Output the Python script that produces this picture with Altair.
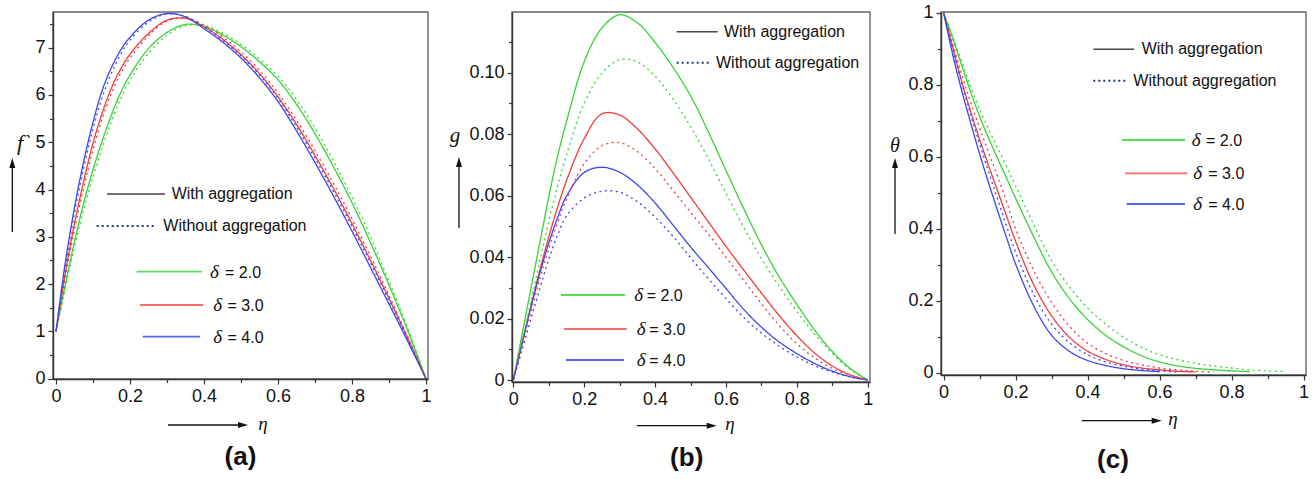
import altair as alt
import pandas as pd

SANS = "Liberation Sans"
SERIF = "Liberation Serif"
INK = "#111111"

DELTAS = ["2.0", "3.0", "4.0"]
KINDS = ["With aggregation", "Without aggregation"]
COLORS = ["#35d435", "#f03b3b", "#3b46ee"]

# ---------------- (a) velocity f' ----------------
ETA_A = [0, 0.0125, 0.025, 0.05, 0.075, 0.1, 0.125, 0.15, 0.175, 0.2, 0.25, 0.3, 0.35,
         0.4, 0.45, 0.5, 0.55, 0.6, 0.65, 0.7, 0.75, 0.8, 0.85, 0.9, 0.95, 1.0]
FP_D2_WITH = [1.0, 1.50, 1.98, 2.90, 3.72, 4.42, 5.03, 5.58, 6.05, 6.42, 6.98, 7.32, 7.49,
              7.45, 7.27, 7.02, 6.70, 6.32, 5.80, 5.18, 4.48, 3.72, 2.88, 1.98, 1.03, 0.0]
FP_D3_WITH = [1.0, 1.62, 2.22, 3.28, 4.18, 4.98, 5.62, 6.15, 6.55, 6.86, 7.30, 7.58, 7.62,
              7.44, 7.18, 6.85, 6.45, 5.96, 5.38, 4.72, 4.02, 3.28, 2.50, 1.70, 0.87, 0.0]
FP_D4_WITH = [1.0, 1.75, 2.45, 3.62, 4.60, 5.42, 6.10, 6.58, 6.95, 7.22, 7.58, 7.72, 7.65,
              7.40, 7.12, 6.78, 6.36, 5.86, 5.24, 4.57, 3.86, 3.12, 2.35, 1.58, 0.80, 0.0]
FP_D2_WITHOUT = [1.0, 1.45, 1.90, 2.78, 3.58, 4.27, 4.88, 5.44, 5.92, 6.31, 6.88, 7.26, 7.46,
                 7.47, 7.31, 7.07, 6.76, 6.40, 5.90, 5.30, 4.60, 3.84, 3.00, 2.06, 1.08, 0.0]
FP_D3_WITHOUT = [1.0, 1.57, 2.13, 3.16, 4.04, 4.84, 5.50, 6.04, 6.46, 6.78, 7.25, 7.56, 7.62,
                 7.48, 7.23, 6.91, 6.52, 6.04, 5.47, 4.82, 4.13, 3.38, 2.59, 1.76, 0.90, 0.0]
FP_D4_WITHOUT = [1.0, 1.68, 2.36, 3.50, 4.46, 5.28, 5.95, 6.46, 6.86, 7.16, 7.54, 7.71, 7.66,
                 7.44, 7.16, 6.83, 6.42, 5.93, 5.32, 4.66, 3.96, 3.22, 2.45, 1.66, 0.84, 0.0]

# ---------------- (b) g ----------------
ETA_B = [0, 0.025, 0.05, 0.075, 0.1, 0.125, 0.15, 0.2, 0.25, 0.3, 0.35, 0.4, 0.45, 0.5,
         0.55, 0.6, 0.65, 0.7, 0.75, 0.8, 0.85, 0.9, 0.95, 1.0]
G_D2_WITH = [0, 0.0150, 0.0300, 0.0447, 0.0595, 0.0728, 0.0840, 0.1035, 0.1145, 0.1188, 0.1162,
             0.1098, 0.1018, 0.0925, 0.0808, 0.0682, 0.0558, 0.0440, 0.0336, 0.0246, 0.0163,
             0.0093, 0.0038, 0.0]
G_D3_WITH = [0, 0.0123, 0.0243, 0.0358, 0.0465, 0.0562, 0.0648, 0.0785, 0.0866, 0.0862, 0.0817,
             0.0752, 0.0675, 0.0595, 0.0515, 0.0435, 0.0358, 0.0283, 0.0210, 0.0144, 0.0088,
             0.0046, 0.0017, 0.0]
G_D4_WITH = [0, 0.0120, 0.0238, 0.0348, 0.0445, 0.0528, 0.0598, 0.0675, 0.0692, 0.0676, 0.0635,
             0.0576, 0.0505, 0.0433, 0.0366, 0.0298, 0.0230, 0.0172, 0.0124, 0.0086, 0.0054,
             0.0029, 0.0011, 0.0]
G_D2_WITHOUT = [0, 0.0128, 0.0257, 0.0388, 0.0515, 0.0630, 0.0732, 0.0900, 0.0998, 0.1042, 0.1035,
                0.0988, 0.0915, 0.0825, 0.0720, 0.0608, 0.0497, 0.0395, 0.0305, 0.0223, 0.0150,
                0.0086, 0.0035, 0.0]
G_D3_WITHOUT = [0, 0.0112, 0.0223, 0.0330, 0.0427, 0.0512, 0.0588, 0.0703, 0.0762, 0.0772, 0.0743,
                0.0688, 0.0618, 0.0546, 0.0475, 0.0400, 0.0324, 0.0248, 0.0178, 0.0118, 0.0072,
                0.0038, 0.0015, 0.0]
G_D4_WITHOUT = [0, 0.0099, 0.0199, 0.0298, 0.0393, 0.0472, 0.0533, 0.0592, 0.0614, 0.0611, 0.0580,
                0.0530, 0.0468, 0.0398, 0.0330, 0.0265, 0.0204, 0.0153, 0.0110, 0.0075, 0.0047,
                0.0026, 0.0010, 0.0]

# ---------------- (c) theta ----------------
ETA_C = [0, 0.025, 0.05, 0.075, 0.1, 0.125, 0.15, 0.175, 0.2, 0.25, 0.3, 0.35, 0.4, 0.45,
         0.5, 0.55, 0.6, 0.65, 0.7, 0.75, 0.8, 0.85, 0.9, 0.95]
TH_D2_WITH = [1.0, 0.930, 0.855, 0.780, 0.712, 0.652, 0.595, 0.540, 0.485, 0.378, 0.280, 0.205,
              0.148, 0.104, 0.072, 0.047, 0.030, 0.019, 0.012, 0.008, 0.005, 0.003]
TH_D3_WITH = [1.0, 0.905, 0.810, 0.726, 0.648, 0.575, 0.505, 0.435, 0.365, 0.245, 0.158, 0.098,
              0.060, 0.037, 0.022, 0.013, 0.008, 0.004, 0.002]
TH_D4_WITH = [1.0, 0.885, 0.785, 0.695, 0.608, 0.527, 0.450, 0.375, 0.302, 0.186, 0.104, 0.059,
              0.034, 0.020, 0.011, 0.006, 0.003]
TH_D2_WITHOUT = [1.0, 0.935, 0.865, 0.795, 0.732, 0.677, 0.624, 0.572, 0.520, 0.412, 0.312, 0.238,
                 0.180, 0.135, 0.098, 0.070, 0.050, 0.036, 0.026, 0.019, 0.013, 0.008, 0.005, 0.003]
TH_D3_WITHOUT = [1.0, 0.915, 0.830, 0.752, 0.680, 0.612, 0.545, 0.475, 0.400, 0.284, 0.195, 0.128,
                 0.082, 0.053, 0.034, 0.022, 0.013, 0.008, 0.004, 0.002]
TH_D4_WITHOUT = [1.0, 0.900, 0.805, 0.718, 0.636, 0.558, 0.482, 0.407, 0.335, 0.218, 0.135, 0.083,
                 0.050, 0.030, 0.018, 0.010, 0.005, 0.002]

# axis ticks
X_TICKS = [0, 0.1, 0.2, 0.3, 0.4, 0.5, 0.6, 0.7, 0.8, 0.9, 1.0]
FA_TICKS = [0, 0.5, 1, 1.5, 2, 2.5, 3, 3.5, 4, 4.5, 5, 5.5, 6, 6.5, 7, 7.5]
G_TICKS = [0, 0.01, 0.02, 0.03, 0.04, 0.05, 0.06, 0.07, 0.08, 0.09, 0.10, 0.11]
TH_TICKS = [0, 0.1, 0.2, 0.3, 0.4, 0.5, 0.6, 0.7, 0.8, 0.9, 1.0]

TENTHS_MAJOR = "abs(datum.value * 5 - round(datum.value * 5)) < 1e-6"
TENTHS_LABEL = ("datum.value == 0 ? '0' : datum.value == 1 ? '1' : (" + TENTHS_MAJOR +
                " ? format(datum.value, '.1f') : '')")
INT_MAJOR = "abs(datum.value - round(datum.value)) < 1e-6"
INT_LABEL = "(" + INT_MAJOR + ") ? format(datum.value, 'd') : ''"
HUND_MAJOR = "abs(datum.value * 50 - round(datum.value * 50)) < 1e-6"
HUND_LABEL = ("datum.value == 0 ? '0' : (" + HUND_MAJOR +
              " ? format(datum.value, '.2f') : '')")

ONE = pd.DataFrame({"k": [0]})


def profile_table(eta, curves):
    rows = []
    for (delta, kind), values in curves.items():
        for e, v in zip(eta, values):
            rows.append({"eta": e, "value": v, "delta": delta, "kind": kind})
    return pd.DataFrame(rows)


def axis(values, major_test, label_expr):
    return alt.Axis(values=values, labelExpr=label_expr, title=None, grid=False,
                    labelFont=SANS, labelFontSize=18, labelColor=INK, labelPadding=3,
                    labelOverlap=False, labelFlush=False, labelBound=False,
                    domainColor="#333333", domainWidth=1.4, tickColor="#333333",
                    tickWidth=1.2, zindex=2,
                    tickSize={"condition": {"test": major_test, "value": 5}, "value": 3.5})


def hline(x1, x2, y, color, width, dash=None):
    kw = {"color": color, "strokeWidth": width}
    if dash:
        kw["strokeDash"] = dash
    return alt.Chart(ONE).mark_rule(**kw).encode(
        x=alt.value(x1), x2=alt.value(x2), y=alt.value(y))


def text(t, x, y, size, font=SANS, style="normal", weight="normal", align="left"):
    return alt.Chart(ONE).mark_text(
        text=t, font=font, fontSize=size, fontStyle=style, fontWeight=weight,
        align=align, baseline="middle", color=INK).encode(x=alt.value(x), y=alt.value(y))


def up_arrow(x, y_tip, y_end):
    shaft = alt.Chart(ONE).mark_rule(color=INK, strokeWidth=1.3).encode(
        x=alt.value(x), y=alt.value(y_tip + 7), y2=alt.value(y_end))
    head = alt.Chart(ONE).mark_point(shape="M0,-1L0.6,1L-0.6,1Z", filled=True, size=100,
                                     color=INK, opacity=1).encode(
        x=alt.value(x), y=alt.value(y_tip + 5))
    return [shaft, head]


def right_arrow(x_start, x_tip, y):
    shaft = alt.Chart(ONE).mark_rule(color=INK, strokeWidth=1.3).encode(
        x=alt.value(x_start), x2=alt.value(x_tip - 7), y=alt.value(y))
    head = alt.Chart(ONE).mark_point(shape="M1,0L-1,-0.6L-1,0.6Z", filled=True, size=100,
                                     color=INK, opacity=1).encode(
        x=alt.value(x_tip - 5), y=alt.value(y))
    return [shaft, head]


def frame(w, h):
    return alt.Chart(ONE).mark_rect(fill=None, stroke="#666666", strokeWidth=1.4).encode(
        x=alt.value(0), x2=alt.value(w), y=alt.value(0), y2=alt.value(h))


def legend(with_line, without_line, deltas):
    (x1, x2, y, tx) = with_line
    (dx1, dx2, dy, dtx) = without_line
    parts = [hline(x1, x2, y, "#444444", 1.6), text("With aggregation", tx, y, 16),
             hline(dx1, dx2, dy, "#22397f", 2, [2, 3]), text("Without aggregation", dtx, dy, 16)]
    for (lx1, lx2, ly, sx, ex), color, d in zip(deltas, ["#55dd55", "#ff6a6a", "#5a66f2"], DELTAS):
        parts += [hline(lx1, lx2, ly, color, 1.8),
                  text("δ", sx, ly, 19, font=SERIF, style="italic"),
                  text("= " + d, ex, ly + 1, 16)]
    return parts


def panel(df, xdom, ydom, yvals, ytest, ylabel, plot_w, w, h, extras):
    lines = alt.Chart(df).mark_line(strokeWidth=1.3, interpolate="catmull-rom", clip=True).encode(
        x=alt.X("eta:Q", scale=alt.Scale(domain=xdom, range=[0, plot_w], nice=False, zero=False),
                axis=axis(X_TICKS, TENTHS_MAJOR, TENTHS_LABEL)),
        y=alt.Y("value:Q", scale=alt.Scale(domain=ydom, nice=False, zero=False),
                axis=axis(yvals, ytest, ylabel)),
        color=alt.Color("delta:N", scale=alt.Scale(domain=DELTAS, range=COLORS), legend=None),
        strokeDash=alt.StrokeDash("kind:N", scale=alt.Scale(domain=KINDS, range=[[1, 0], [2, 3.5]]),
                                  legend=None),
    )
    return alt.layer(frame(plot_w, h), lines, *extras).properties(width=w, height=h)


df_a = profile_table(ETA_A, {
    ("2.0", KINDS[0]): FP_D2_WITH, ("3.0", KINDS[0]): FP_D3_WITH, ("4.0", KINDS[0]): FP_D4_WITH,
    ("2.0", KINDS[1]): FP_D2_WITHOUT, ("3.0", KINDS[1]): FP_D3_WITHOUT, ("4.0", KINDS[1]): FP_D4_WITHOUT,
})
df_b = profile_table(ETA_B, {
    ("2.0", KINDS[0]): G_D2_WITH, ("3.0", KINDS[0]): G_D3_WITH, ("4.0", KINDS[0]): G_D4_WITH,
    ("2.0", KINDS[1]): G_D2_WITHOUT, ("3.0", KINDS[1]): G_D3_WITHOUT, ("4.0", KINDS[1]): G_D4_WITHOUT,
})
df_c = profile_table(ETA_C, {
    ("2.0", KINDS[0]): TH_D2_WITH, ("3.0", KINDS[0]): TH_D3_WITH, ("4.0", KINDS[0]): TH_D4_WITH,
    ("2.0", KINDS[1]): TH_D2_WITHOUT, ("3.0", KINDS[1]): TH_D3_WITHOUT, ("4.0", KINDS[1]): TH_D4_WITHOUT,
})

# invisible anchor fixing the outer left/top edge of the figure
anchor = alt.Chart(ONE).mark_rule(opacity=0).encode(
    x=alt.value(-53), x2=alt.value(-52), y=alt.value(-12))

extras_a = ([anchor]
            + legend((54, 112, 182, 118.7), (43.7, 103.7, 214, 110.3),
                     [(83.7, 148.7, 259.7, 157, 172), (87, 150.3, 293, 160.3, 174.5),
                      (89.7, 147, 324.7, 160.3, 174.5)])
            + [text("f`", -36, 131, 22, font=SERIF, style="italic")]
            + up_arrow(-40.7, 146, 220)
            + right_arrow(115, 195, 413)
            + [text("η", 210, 412, 19, font=SERIF, style="italic", align="center"),
               text("(a)", 187.5, 445, 26, weight="bold", align="center")])

extras_b = (legend((164.7, 205.7, 19.7, 212), (164.7, 199.7, 50.7, 204),
                   [(48.7, 113, 283, 122.3, 134.7), (52, 114.7, 317, 124.7, 137.3),
                    (54, 112, 348, 124.7, 137.3)])
            + [text("g", -57, 124, 21, font=SERIF, style="italic", align="center")]
            + up_arrow(-53, 145, 216)
            + right_arrow(124.7, 204.7, 413.7)
            + [text("η", 218, 412, 19, font=SERIF, style="italic", align="center"),
               text("(b)", 174.7, 446, 26, weight="bold", align="center")])

extras_c = (legend((152.3, 193, 37.3, 200.7), (152.3, 185.7, 68.7, 192.3),
                   [(180.7, 244, 128, 250.7, 265), (184, 246.3, 161.3, 252.3, 267.3),
                    (185.7, 244, 192, 252.3, 267.3)])
            + [text("θ", -46, 134, 20, font=SERIF, style="italic", align="center")]
            + up_arrow(-46, 146, 222)
            + right_arrow(140.7, 220.7, 408.7)
            + [text("η", 232, 407, 19, font=SERIF, style="italic", align="center"),
               text("(c)", 172, 448, 26, weight="bold", align="center")])

# panel (a) reserves 13 px of extra room right of its frame so the gaps come out uneven
pa = panel(df_a, [-0.0081, 1.0054], [-0.006, 7.753], FA_TICKS, INT_MAJOR, INT_LABEL,
           375, 388, 367, extras_a)
pb = panel(df_b, [-0.0037, 1.0065], [-0.00065, 0.1197], G_TICKS, HUND_MAJOR, HUND_LABEL,
           358, 358, 370, extras_b)
pc = panel(df_c, [-0.0072, 1.0067], [-0.0064, 1.002], TH_TICKS, TENTHS_MAJOR, TENTHS_LABEL,
           365, 365, 363, extras_c)

chart = (alt.hconcat(pa, pb, pc, spacing=71, bounds="flush")
         .properties(padding=0, background="white")
         .configure_view(stroke=None))

chart.save("out.html", embed_options={"renderer": "svg", "actions": False})
